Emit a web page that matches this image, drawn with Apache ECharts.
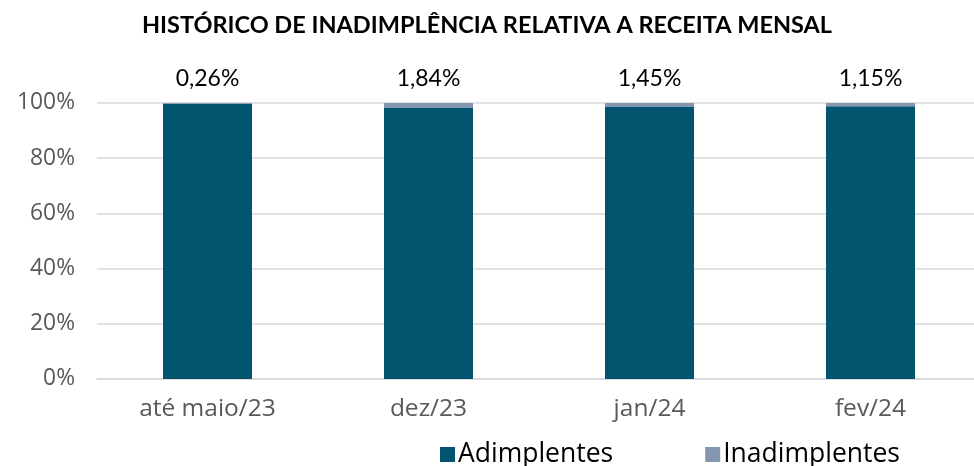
<!DOCTYPE html>
<html><head><meta charset="utf-8">
<script src="https://cdn.jsdelivr.net/npm/echarts@6/dist/echarts.min.js"></script>
<style>html,body{margin:0;padding:0;background:#fff}#c{width:974px;height:466px}</style>
</head><body><div id="c"></div>
<script>
const categories = ['até maio/23', 'dez/23', 'jan/24', 'fev/24'];
const adimplentes = [99.74, 98.16, 98.55, 98.85];
const inadimplentes = [0.26, 1.84, 1.45, 1.15];
const yTicks = [0, 20, 40, 60, 80, 100];

const chart = echarts.init(document.getElementById('c'));
const fmt = v => v.toFixed(2).replace('.', ',') + '%';
chart.setOption({
  animation: false,
  title: {
    text: 'HISTÓRICO DE INADIMPLÊNCIA RELATIVA A RECEITA MENSAL',
    left: 'center', top: 8,
    textStyle: { fontFamily: 'Lato', fontWeight: 'bold', fontSize: 23.5, color: '#000' }
  },
  legend: {
    left: 435, top: 436, itemWidth: 15, itemHeight: 15, itemGap: 92,
    icon: 'rect',
    textStyle: { fontFamily: 'Open Sans', fontSize: 26.5, color: '#000', padding: [0, 0, 0, -2] },
    data: ['Adimplentes', 'Inadimplentes']
  },
  grid: { left: 97, width: 884, top: 103, bottom: 87, containLabel: false, outerBoundsMode: 'none' },
  xAxis: {
    type: 'category', data: categories,
    axisLine: { lineStyle: { color: '#d9d9d9', width: 1.5 } },
    axisTick: { show: false },
    axisLabel: { fontFamily: 'Open Sans', fontSize: 24.5, color: '#595959', margin: 18 }
  },
  yAxis: {
    type: 'value', min: 0, max: 100, interval: 20,
    axisLine: { show: false }, axisTick: { show: false },
    splitLine: { lineStyle: { color: '#d9d9d9', width: 1.5 } },
    axisLabel: { fontFamily: 'Open Sans', fontSize: 22.8, color: '#595959', margin: 22,
      formatter: v => yTicks.includes(v) ? v + '%' : '' }
  },
  series: [
    { name: 'Adimplentes', type: 'bar', stack: 's', barWidth: 89,
      itemStyle: { color: '#03546F' }, data: adimplentes },
    { name: 'Inadimplentes', type: 'bar', stack: 's', barWidth: 89,
      itemStyle: { color: '#8497B0' }, data: inadimplentes,
      label: { show: true, position: 'top', distance: 13, fontFamily: 'Lato', fontSize: 23, color: '#000',
        formatter: p => fmt(p.value) } }
  ]
});
</script></body></html>
